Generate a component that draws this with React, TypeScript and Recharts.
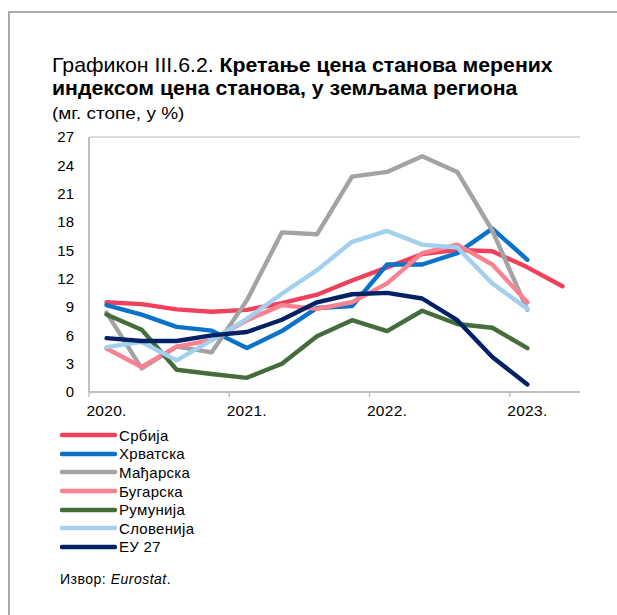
import React from 'react';
import { LineChart, Line, XAxis, YAxis, CartesianGrid } from 'recharts';

const quarters = ['2020Q1','2020Q2','2020Q3','2020Q4','2021Q1','2021Q2','2021Q3','2021Q4','2022Q1','2022Q2','2022Q3','2022Q4','2023Q1','2023Q2'];
const yearTicks = [0, 4, 8, 12];
const yearLabels = ['2020.', '2021.', '2022.', '2023.'];
const yTicks = [0, 3, 6, 9, 12, 15, 18, 21, 24, 27];

const serbia = [9.5, 9.3, 8.75, 8.5, 8.7, 9.4, 10.3, 11.8, 13.2, 14.6, 15.05, 14.9, 13.2, 11.2];
const croatia = [9.2, 8.2, 6.9, 6.5, 4.65, 6.45, 8.9, 9.1, 13.5, 13.5, 14.7, 17.3, 14.0, null];
const hungary = [8.4, 2.5, 4.8, 4.2, 9.7, 16.9, 16.7, 22.8, 23.3, 24.95, 23.3, 17.1, 8.7, null];
const bulgaria = [4.6, 2.65, 4.8, 5.5, 7.6, 9.2, 8.8, 9.5, 11.5, 14.7, 15.6, 13.5, 9.5, null];
const romania = [8.2, 6.6, 2.35, 1.9, 1.5, 3.0, 5.9, 7.6, 6.45, 8.6, 7.2, 6.8, 4.65, null];
const slovenia = [4.75, 5.3, 3.35, 5.5, 7.75, 10.4, 12.9, 15.9, 17.05, 15.6, 15.3, 11.5, 8.8, null];
const eu27 = [5.7, 5.4, 5.4, 6.0, 6.35, 7.65, 9.5, 10.35, 10.5, 9.9, 7.6, 3.7, 0.8, null];

const seriesNames = ['Србија', 'Хрватска', 'Мађарска', 'Бугарска', 'Румунија', 'Словенија', 'ЕУ 27'];
const seriesKeys = ['serbia', 'croatia', 'hungary', 'bulgaria', 'romania', 'slovenia', 'eu27'];
const seriesColors = ['#EF405C', '#0A72C9', '#A3A3A3', '#FA8190', '#456C3B', '#A3D0EE', '#032266'];
const seriesValues = [serbia, croatia, hungary, bulgaria, romania, slovenia, eu27];

const data = quarters.map((q, i) => {
  const row: any = { q, x: i + 0.5 };
  seriesKeys.forEach((k, s) => { row[k] = seriesValues[s][i]; });
  return row;
});

const FONT = '"Liberation Sans", Arial, sans-serif';
const CHART_W = 617;
const CHART_H = 430;
const M_LEFT = 49;
const Y_W = 40;
const M_RIGHT = 37;
const PLOT_W = CHART_W - M_LEFT - Y_W - M_RIGHT;
const HALF_BAND = PLOT_W / quarters.length / 2;

const XTick = (props: any) => {
  const { x, y, payload } = props;
  const idx = yearTicks.indexOf(payload.value);
  return (
    <text x={x + HALF_BAND} y={y + 17} textAnchor="middle" fontSize={15.5} letterSpacing={0.3} fill="#000" fontFamily={FONT}>
      {yearLabels[idx]}
    </text>
  );
};

export default function App() {
  return (
    <div style={{ position: 'absolute', left: 0, top: 0, width: 617, height: 615, background: '#fff', fontFamily: FONT }}>
      <div style={{ position: 'absolute', left: 8, top: 11, width: 609, height: 604, borderLeft: '2px solid #ABABAB', borderTop: '2px solid #ABABAB' }} />
      <div style={{ position: 'absolute', left: 52, top: 54, fontSize: 20.4, lineHeight: '23.4px', color: '#000', whiteSpace: 'nowrap', transform: 'scaleX(1.044)', transformOrigin: 'left top' }}>
        <div>Графикон III.6.2. <b>Кретање цена станова мерених</b></div>
        <div><b>индексом цена станова, у земљама региона</b></div>
      </div>
      <div style={{ position: 'absolute', left: 52, top: 103.5, fontSize: 16.5, lineHeight: '18px', color: '#000', whiteSpace: 'nowrap', transform: 'scaleX(1.15)', transformOrigin: 'left top' }}>
        (мг. стопе, у %)
      </div>
      <div style={{ position: 'absolute', left: 0, top: 0 }}>
        <LineChart width={CHART_W} height={CHART_H} data={data} margin={{ top: 137, right: M_RIGHT, left: M_LEFT, bottom: 8 }}>
          <CartesianGrid vertical={false} stroke="#D0D0D0" strokeWidth={1.3} />
          <XAxis
            dataKey="x"
            type="number"
            domain={[0, quarters.length]}
            ticks={yearTicks}
            interval={0}
            tick={<XTick />}
            tickSize={5}
            axisLine={{ stroke: '#BFBFBF', strokeWidth: 2 }}
            tickLine={{ stroke: '#BFBFBF', strokeWidth: 1.5 }}
            height={30}
          />
          <YAxis
            yAxisId="left"
            width={Y_W}
            domain={[0, 27]}
            ticks={yTicks}
            interval={0}
            tickLine={false}
            axisLine={{ stroke: '#BFBFBF', strokeWidth: 2 }}
            tick={{ fontSize: 15, fill: '#000', fontFamily: FONT }}
            tickMargin={9}
          />
          <YAxis
            yAxisId="right"
            orientation="right"
            width={0}
            domain={[0, 27]}
            tick={false}
            tickLine={false}
            axisLine={{ stroke: '#BFBFBF', strokeWidth: 2 }}
          />
          {seriesKeys.map((k, s) => (
            <Line
              key={k}
              yAxisId="left"
              type="linear"
              dataKey={k}
              stroke={seriesColors[s]}
              strokeWidth={4.4}
              strokeLinejoin="round"
              strokeLinecap="round"
              dot={false}
              activeDot={false}
              isAnimationActive={false}
              connectNulls={false}
            />
          ))}
        </LineChart>
      </div>
      <div style={{ position: 'absolute', left: 60, top: 426 }}>
        {seriesNames.map((n, s) => (
          <div key={n} style={{ display: 'flex', alignItems: 'center', height: 18.6, fontSize: 15, letterSpacing: 0.3, color: '#000', whiteSpace: 'nowrap' }}>
            <svg width={58} height={8} style={{ display: 'block' }}>
              <line x1={2} y1={4} x2={55} y2={4} stroke={seriesColors[s]} strokeWidth={4.4} strokeLinecap="round" />
            </svg>
            <span style={{ marginLeft: 1 }}>{n}</span>
          </div>
        ))}
      </div>
      <div style={{ position: 'absolute', left: 60, top: 571, fontSize: 14, letterSpacing: 0.5, color: '#000', whiteSpace: 'nowrap' }}>
        Извор: <i>Eurostat</i>.
      </div>
    </div>
  );
}
